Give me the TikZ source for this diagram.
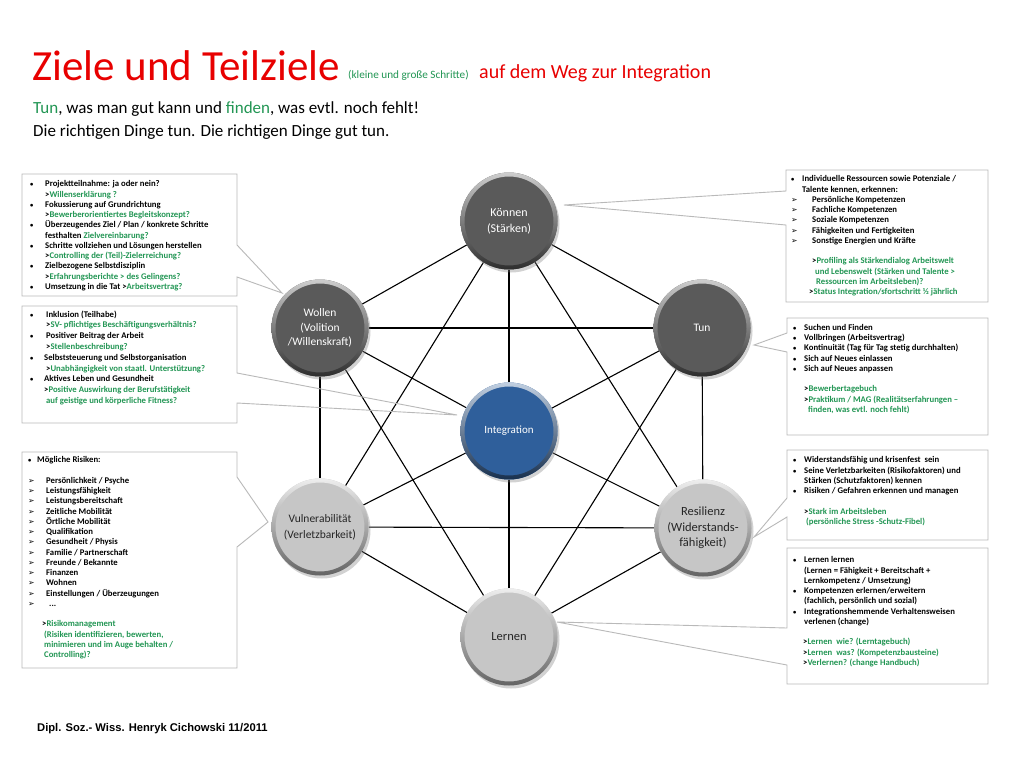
\documentclass[tikz,border=0pt]{standalone}
\usepackage{fontspec}
\setmainfont{Carlito}
\newfontfamily\symf{DejaVu Sans}
\newfontfamily\arialf{Liberation Sans}
\usetikzlibrary{shadows,backgrounds}
\definecolor{grn}{RGB}{34,150,84}
\definecolor{ttl}{RGB}{232,0,0}
\definecolor{dk}{RGB}{90,90,90}
\definecolor{bl}{RGB}{47,95,155}
\definecolor{lt}{RGB}{198,198,198}
\definecolor{cg}{RGB}{185,185,185}
\newcommand\gr[1]{\textcolor{grn}{#1}}
\newcommand\bu[1]{\makebox[#1pt][l]{\fontsize{6.5}{6.5}\selectfont •}}
\newcommand\arw[1]{\makebox[#1pt][l]{\symf\fontsize{7.8}{7.8}\selectfont ➢}}
\newcommand\ind[1]{\hspace*{#1pt}}
\tikzset{
  ball/.style={circle, minimum size=97pt, inner sep=0pt, align=center, fill=#1,
    drop shadow={opacity=0.35, shadow xshift=2pt, shadow yshift=-3pt},
    path picture={\shade[even odd rule, top color=#1!30!white, bottom color=#1!50!black]
      (path picture bounding box.center) circle (48.5pt) circle (44.5pt);}},
  link/.style={draw=black, line width=1.1pt},
  cbox/.style={draw=cg, line width=0.9pt},
  boxtxt/.style={anchor=north west, inner sep=0pt, align=left,
    font=\fontsize{8.7}{10.25}\selectfont\bfseries},
}
\begin{document}
\begin{tikzpicture}[x=1pt, y=-1pt]
\useasboundingbox (0,0) rectangle (1024,768);

% titles
\node[anchor=base west, inner sep=0, text=ttl, font=\fontsize{43}{48}\selectfont] (t1) at (32,80) {Ziele und Teilziele};
\node[anchor=base west, inner sep=0, text=grn, font=\fontsize{11.2}{12}\selectfont] (t2) at (348,78) {(kleine und große Schritte)};
\node[anchor=base west, inner sep=0, text=ttl, font=\fontsize{20}{24}\selectfont] (t3) at (479,78) {auf dem Weg zur Integration};
\node[anchor=base west, inner sep=0, font=\fontsize{17}{23}\selectfont] (sub1) at (33,113)
  {\gr{Tun}, was man gut kann und \gr{finden}, was evtl. noch fehlt!};
\node[anchor=base west, inner sep=0, font=\fontsize{17}{23}\selectfont] (sub2) at (33,136)
  {Die richtigen Dinge tun. Die richtigen Dinge gut tun.};
\node[anchor=base west, inner sep=0, font=\arialf\bfseries\fontsize{11.2}{13}\selectfont] (foot) at (37,731)
  {Dipl. Soz.- Wiss. Henryk Cichowski 11/2011};

% circles
\node[ball=dk, text=white, font=\fontsize{12}{16}\selectfont] (K) at (509,221) {Können\\(Stärken)};
\node[ball=dk, text=white, font=\fontsize{11.5}{14.5}\selectfont] (W) at (320,328) {Wollen\\(Volition\\/Willenskraft{\large )}};
\node[ball=dk, text=white, font=\fontsize{11.5}{14}\selectfont] (T) at (702,328) {Tun};
\node[ball=bl, text=white, font=\fontsize{11}{14}\selectfont] (I) at (509,431) {Integration};
\node[ball=lt, text=black!85, font=\fontsize{11.5}{16}\selectfont] (V) at (320,527) {Vulnerabilität\\(Verletzbarkeit{\large )}};
\node[ball=lt, text=black!85, font=\fontsize{12.5}{15.5}\selectfont] (R) at (703,528) {Resilienz\\(Widerstands-\\fähigkeit)};
\node[ball=lt, text=black!85, font=\fontsize{12.5}{15}\selectfont] (L) at (509,637) {Lernen};

\begin{scope}[on background layer]
\fill[white] (0,0) rectangle (1024,768);
\foreach \a/\b in {K/W,K/T,W/T,W/V,T/R,V/R,V/L,R/L,K/V,K/R,W/L,T/L,I/K,I/W,I/T,I/V,I/R,I/L}
  \draw[link] (\a) -- (\b);
\end{scope}

% callout tips
\coordinate (p1) at (282,293);
\coordinate (p2) at (457,415);
\coordinate (p3) at (268,522);
\coordinate (q1) at (564,205);
\coordinate (q2) at (754,345);
\coordinate (q3) at (754,537);
\coordinate (q4) at (557,622);

% left boxes
\draw[cbox] (22,174) -- (237,174) -- (237,245) -- (p1) -- (237,277) -- (237,296) -- (22,296) -- cycle;
\draw[cbox] (22,306) -- (237,306) -- (237,373) -- (p2) -- (237,403) -- (237,423) -- (22,423) -- cycle;
\draw[cbox] (22,452) -- (237,452) -- (237,477) -- (p3) -- (237,547) -- (237,668) -- (22,668) -- cycle;
% right boxes
\draw[cbox] (786,170) -- (988,170) -- (988,302) -- (786,302) -- (786,225) -- (q1) -- (786,191) -- cycle;
\draw[cbox] (787,318) -- (988,318) -- (988,435) -- (787,435) -- (787,352) -- (q2) -- (787,333) -- cycle;
\draw[cbox] (787,450) -- (988,450) -- (988,540) -- (787,540) -- (787,517) -- (q3) -- (787,498) -- cycle;
\draw[cbox] (787,548) -- (988,548) -- (988,684) -- (787,684) -- (787,665) -- (q4) -- (787,628) -- cycle;

% left box texts
\node[boxtxt] (b1) at (30,180.5) {%
\bu{15}Projektteilnahme: ja oder nein?\\
\ind{15}>\gr{Willenserklärung ?}\\
\bu{15}Fokussierung auf Grundrichtung\\
\ind{15}>\gr{Bewerberorientiertes Begleitskonzept?}\\
\bu{15}Überzeugendes Ziel / Plan / konkrete Schritte\\
\ind{15}festhalten \gr{Zielvereinbarung?}\\
\bu{15}Schritte vollziehen und Lösungen herstellen\\
\ind{15}>\gr{Controlling der (Teil)-Zielerreichung?}\\
\bu{15}Zielbezogene Selbstdisziplin\\
\ind{15}>\gr{Erfahrungsberichte > des Gelingens?}\\
\bu{15}Umsetzung in die Tat >\gr{Arbeitsvertrag?}};

\node[boxtxt, font=\fontsize{8.7}{10.8}\selectfont\bfseries] (b2) at (30,310.5) {%
\bu{16}Inklusion (Teilhabe)\\
\ind{16}>\gr{SV- pflichtiges Beschäftigungsverhältnis?}\\
\bu{16}Positiver Beitrag der Arbeit\\
\ind{16}>\gr{Stellenbeschreibung?}\\
\bu{14}Selbststeuerung und Selbstorganisation\\
\ind{16}>\gr{Unabhängigkeit von staatl. Unterstützung?}\\
\bu{14}Aktives Leben und Gesundheit\\
\ind{14}>\gr{Positive Auswirkung der Berufstätigkeit}\\
\ind{16}\gr{auf geistige und körperliche Fitness?}};

\node[boxtxt] (b3) at (28,456.5) {%
\bu{9}Mögliche Risiken:\\[10.25pt]
\arw{18}Persönlichkeit / Psyche\\
\arw{18}Leistungsfähigkeit\\
\arw{18}Leistungsbereitschaft\\
\arw{18}Zeitliche Mobilität\\
\arw{18}Örtliche Mobilität\\
\arw{18}Qualifikation\\
\arw{18}Gesundheit / Physis\\
\arw{18}Familie / Partnerschaft\\
\arw{18}Freunde / Bekannte\\
\arw{18}Finanzen\\
\arw{18}Wohnen\\
\arw{18}Einstellungen / Überzeugungen\\
\arw{18}\ind{3}...\\[10.25pt]
\ind{14}>\gr{Risikomanagement}\\
\ind{16}\gr{(Risiken identifizieren, bewerten,}\\
\ind{16}\gr{minimieren und im Auge behalten /}\\
\ind{16}\gr{Controlling)?}};

% right box texts
\node[boxtxt] (r1) at (791,175.5) {%
\bu{11}Individuelle Ressourcen sowie Potenziale /\\
\ind{11}Talente kennen, erkennen:\\
\arw{21}Persönliche Kompetenzen\\
\arw{21}Fachliche Kompetenzen\\
\arw{21}Soziale Kompetenzen\\
\arw{21}Fähigkeiten und Fertigkeiten\\
\arw{21}Sonstige Energien und Kräfte\\[10.25pt]
\ind{21}>\gr{Profiling als Stärkendialog Arbeitswelt}\\
\ind{24}\gr{und Lebenswelt (Stärken und Talente >}\\
\ind{25}\gr{Ressourcen im Arbeitsleben)?}\\
\ind{18}>\gr{Status Integration/sfortschritt ½ jährlich}};

\node[boxtxt] (r2) at (793,324) {%
\bu{11}Suchen und Finden\\
\bu{11}Vollbringen (Arbeitsvertrag)\\
\bu{11}Kontinuität (Tag für Tag stetig durchhalten)\\
\bu{11}Sich auf Neues einlassen\\
\bu{11}Sich auf Neues anpassen\\[10.25pt]
\ind{11}>\gr{Bewerbertagebuch}\\
\ind{11}>\gr{Praktikum / MAG (Realitätserfahrungen –}\\
\ind{15}\gr{finden, was evtl. noch fehlt)}};

\node[boxtxt] (r3) at (793,456.5) {%
\bu{11}Widerstandsfähig und krisenfest \ sein\\
\bu{11}Seine Verletzbarkeiten (Risikofaktoren) und\\
\ind{11}Stärken (Schutzfaktoren) kennen\\
\bu{11}Risiken / Gefahren erkennen und managen\\[10.25pt]
\ind{11}>\gr{Stark im Arbeitsleben}\\
\ind{13}\gr{(persönliche Stress -Schutz-Fibel)}};

\node[boxtxt] (r4) at (793,556.5) {%
\bu{11}Lernen lernen\\
\ind{11}(Lernen = Fähigkeit + Bereitschaft +\\
\ind{11}Lernkompetenz / Umsetzung)\\
\bu{11}Kompetenzen erlernen/erweitern\\
\ind{11}(fachlich, persönlich und sozial)\\
\bu{11}Integrationshemmende Verhaltensweisen\\
\ind{11}verlenen (change)\\[10.25pt]
\ind{10}>\gr{Lernen \ wie? (Lerntagebuch)}\\
\ind{10}>\gr{Lernen \ was? (Kompetenzbausteine)}\\
\ind{10}>\gr{Verlernen? (change Handbuch)}};
\end{tikzpicture}
\end{document}
